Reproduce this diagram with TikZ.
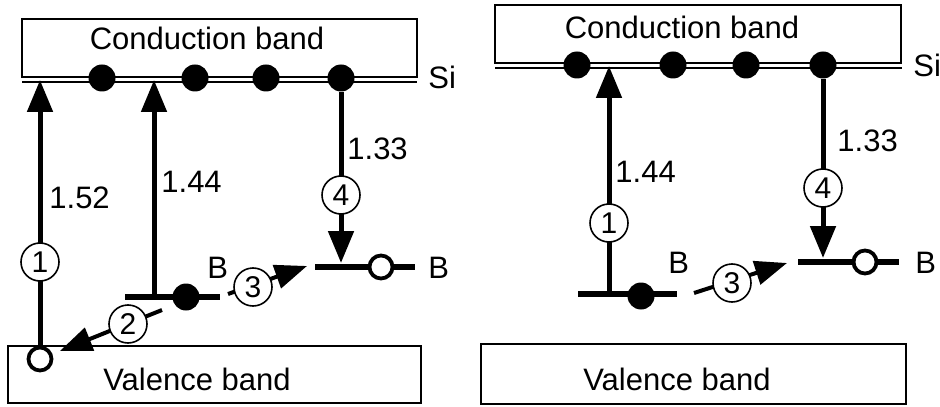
\documentclass[tikz,border=0pt]{standalone}
\usepackage{fontspec}
\setmainfont{Liberation Sans}
\usetikzlibrary{arrows.meta}
\begin{document}
\begin{tikzpicture}[x=0.5pt,y=-0.5pt,
    txt/.style={font=\fontsize{15.5}{18}\selectfont, inner sep=0pt},
    band/.style={line width=0.8pt},
    lvl/.style={line width=3.4pt},
    up/.style={line width=2.5pt,-{Triangle[length=16pt,width=12.5pt]}},
    hop/.style={line width=2pt,-{Triangle[length=16pt,width=12pt]}},
    el/.style={circle,fill,inner sep=0pt,minimum size=13.5pt},
    ho/.style={circle,draw,fill=white,line width=1.9pt,inner sep=0pt,minimum size=11.5pt},
    num/.style={circle,draw,fill=white,line width=0.8pt,inner sep=0pt,minimum size=19pt,font=\fontsize{15}{15}\selectfont}]
    \useasboundingbox (0,0) rectangle (940,406);

    % left: two possible routes
    \draw[band] (22,19) rectangle (417,77);
    \draw[band] (22,82) -- (417,82);
    \draw[band] (8,346) rectangle (421,403);
    \node[txt,anchor=base] (cbL) at (207,50) {Conduction band};
    \node[txt,anchor=base west] (siL) at (428,89) {Si};
    \node[txt,anchor=base] (vbL) at (197,390) {Valence band};
    \coordinate (edgeL) at (0,80);
    \draw[lvl] (125,297) -- (220,297);
    \draw[lvl] (315,267) -- (415,267);
    \coordinate (lvA) at (154,297);
    \coordinate (lvB) at (341,263);
    \node[el] (eL1) at (102,78) {};
    \node[el] (eL2) at (195,78) {};
    \node[el] (eL3) at (266,78) {};
    \node[el] (eL4) at (341,78) {};
    \node[el] (bL) at (186,297) {};
    \node[ho] (hL) at (40,359) {};
    \node[ho] (hbL) at (381,267) {};
    \node[txt,anchor=base west] (BaL) at (207,278) {B};
    \node[txt,anchor=base west] (BbL) at (428,278) {B};
    \coordinate (s2) at (162,310);
    \coordinate (s3) at (228,294);
    \coordinate (t3) at (307,266);

    \draw[up] (hL) -- (hL |- edgeL);
    \draw[up] (lvA) -- (lvA |- edgeL);
    \draw[up] (eL4) -- (lvB);
    \draw[hop,shorten >=4pt] (s2) -- (hL);
    \draw[hop] (s3) -- (t3);
    \node[txt,anchor=base west] at (49,208) {1.52};
    \node[txt,anchor=base west] at (161,192) {1.44};
    \node[txt,anchor=base west] at (347,160) {1.33};
    \node[num] (n1L) at (40,262) {1};
    \node[num] (n2L) at (128,324) {2};
    \node[num] (n3L) at (253,287) {3};
    \node[num] (n4L) at (341,195) {4};

    % right: B level only
    \draw[band] (495,5) rectangle (901,63);
    \draw[band] (495,68) -- (902,68);
    \draw[band] (481,344) rectangle (906,404);
    \node[txt,anchor=base] (cbR) at (682,39) {Conduction band};
    \node[txt,anchor=base west] (siR) at (913,77) {Si};
    \node[txt,anchor=base] (vbR) at (677,390) {Valence band};
    \coordinate (edgeR) at (0,66);
    \draw[lvl] (578,294) -- (677,294);
    \draw[lvl] (798,262) -- (899,262);
    \coordinate (lvC) at (609,294);
    \coordinate (lvD) at (823,258);
    \node[el] (eR1) at (577,65) {};
    \node[el] (eR2) at (673,65) {};
    \node[el] (eR3) at (746,65) {};
    \node[el] (eR4) at (823,65) {};
    \node[el] (bR) at (641,296) {};
    \node[ho] (hbR) at (865,262) {};
    \node[txt,anchor=base west] (BaR) at (668,273) {B};
    \node[txt,anchor=base west] (BbR) at (915,273) {B};
    \coordinate (s3R) at (694,293);
    \coordinate (t3R) at (787,263);

    \draw[up] (lvC) -- (lvC |- edgeR);
    \draw[up] (eR4) -- (lvD);
    \draw[hop] (s3R) -- (t3R);
    \node[txt,anchor=base west] at (615,183) {1.44};
    \node[txt,anchor=base west] at (837,152) {1.33};
    \node[num] (n1R) at (609,223) {1};
    \node[num] (n3R) at (732,283) {3};
    \node[num] (n4R) at (823,188) {4};
\end{tikzpicture}
\end{document}
